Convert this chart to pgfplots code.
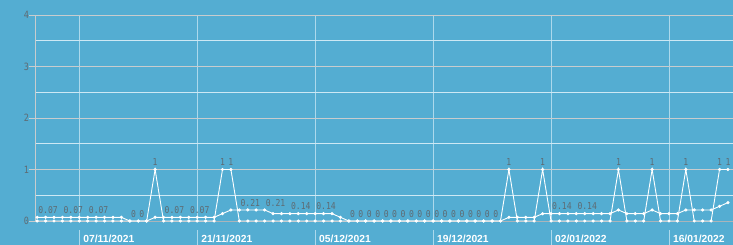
\documentclass[border=0pt]{standalone}
\usepackage{pgfplots}
\pgfplotsset{compat=1.18}
\usepackage{pgfplotstable}
\usepackage{fontspec}
\setmainfont{Liberation Sans}
\newfontfamily\lblfont[FakeStretch=0.85]{DejaVu Sans Mono}
\definecolor{bgc}{RGB}{84,173,210}
\definecolor{intgrid}{RGB}{200,204,206}
\definecolor{halfgrid}{RGB}{205,232,244}
\definecolor{vgrid}{RGB}{172,217,236}
\definecolor{lblc}{RGB}{94,107,115}
\definecolor{axc}{RGB}{170,180,186}
\newcommand\tk{\textcolor{vgrid}{\rule[-2.3bp]{0.9bp}{15bp}}\hspace{3.6bp}}

\pgfplotstableread{
day D R
0 0 0.0714
1 0 0.0714
2 0 0.0714
3 0 0.0714
4 0 0.0714
5 0 0.0714
6 0 0.0714
7 0 0.0714
8 0 0.0714
9 0 0.0714
10 0 0.0714
11 0 0
12 0 0
13 0 0
14 1 0.0714
15 0 0.0714
16 0 0.0714
17 0 0.0714
18 0 0.0714
19 0 0.0714
20 0 0.0714
21 0 0.0714
22 1 0.1429
23 1 0.2143
24 0 0.2143
25 0 0.2143
26 0 0.2143
27 0 0.2143
28 0 0.1429
29 0 0.1429
30 0 0.1429
31 0 0.1429
32 0 0.1429
33 0 0.1429
34 0 0.1429
35 0 0.1429
36 0 0.0714
37 0 0
38 0 0
39 0 0
40 0 0
41 0 0
42 0 0
43 0 0
44 0 0
45 0 0
46 0 0
47 0 0
48 0 0
49 0 0
50 0 0
51 0 0
52 0 0
53 0 0
54 0 0
55 0 0
56 1 0.0714
57 0 0.0714
58 0 0.0714
59 0 0.0714
60 1 0.1429
61 0 0.1429
62 0 0.1429
63 0 0.1429
64 0 0.1429
65 0 0.1429
66 0 0.1429
67 0 0.1429
68 0 0.1429
69 1 0.2143
70 0 0.1429
71 0 0.1429
72 0 0.1429
73 1 0.2143
74 0 0.1429
75 0 0.1429
76 0 0.1429
77 1 0.2143
78 0 0.2143
79 0 0.2143
80 0 0.2143
81 1 0.2857
82 1 0.3571
}\datatable

\begin{document}
\begin{tikzpicture}
\fill[bgc] (0,0) rectangle (733bp,245bp);
\begin{axis}[
  at={(35.9bp,24bp)}, anchor=south west, scale only axis,
  width=697.1bp, height=206bp,
  xmin=-0.15, xmax=82.6, ymin=0, ymax=4,
  axis x line*=bottom, axis y line*=left,
  x axis line style={draw=axc, line width=0.9bp, -},
  y axis line style={draw=intgrid, line width=0.9bp, -},
  ytick={0,1,2,3,4}, yticklabels={0,1,2,3,4},
  minor ytick={0.5,1.5,2.5,3.5},
  ymajorgrids, yminorgrids, xmajorgrids,
  major y grid style={draw=intgrid, line width=0.9bp},
  minor y grid style={draw=halfgrid, line width=0.9bp},
  major x grid style={draw=vgrid, line width=0.9bp},
  tick align=outside, major tick length=7bp, minor tick length=0pt,
  ytick style={draw=intgrid, line width=0.9bp},
  xtick style={draw=none},
  xtick={5,19,33,47,61,75},
  xticklabels={{\tk 07/11/2021},{\tk 21/11/2021},{\tk 05/12/2021},{\tk 19/12/2021},{\tk 02/01/2022},{\tk 16/01/2022}},
  xticklabel style={anchor=north west, inner sep=0pt, outer sep=0pt, yshift=-2bp, xshift=-0.45bp,
    font=\fontsize{10.3bp}{11bp}\selectfont\bfseries, text=white},
  yticklabel style={anchor=east, inner sep=0pt, outer sep=0pt,
    font=\lblfont\fontsize{10bp}{11bp}\selectfont, text=lblc},
  clip=false,
]
\addplot[white, line width=0.9bp, mark=*, mark size=1.1bp, mark options={fill=white, draw=white}]
  table[x=day, y=D] {\datatable};
\addplot[white, line width=0.9bp, mark=*, mark size=1.1bp, mark options={fill=white, draw=white}]
  table[x=day, y=R] {\datatable};
% rolling-average value labels
\addplot[draw=none, mark=none, nodes near coords, point meta=explicit symbolic,
  nodes near coords align={anchor=base west},
  every node near coord/.append style={inner sep=0pt, xshift=1bp, yshift=3.8bp,
    font=\lblfont\fontsize{9.5bp}{10bp}\selectfont, text=lblc}]
  coordinates {
  (0,0.0714)[0.07] (3,0.0714)[0.07] (6,0.0714)[0.07]
  (11,0)[0] (12,0)[0]
  (15,0.0714)[0.07] (18,0.0714)[0.07]
  (24,0.2143)[0.21] (27,0.2143)[0.21]
  (30,0.1429)[0.14] (33,0.1429)[0.14]
  (37,0)[0] (38,0)[0] (39,0)[0] (40,0)[0] (41,0)[0] (42,0)[0]
  (43,0)[0] (44,0)[0] (45,0)[0] (46,0)[0] (47,0)[0] (48,0)[0]
  (49,0)[0] (50,0)[0] (51,0)[0] (52,0)[0] (53,0)[0] (54,0)[0]
  (61,0.1429)[0.14] (64,0.1429)[0.14]
  };
% daily value labels
\addplot[draw=none, mark=none, nodes near coords, point meta=explicit symbolic,
  nodes near coords align={anchor=base},
  every node near coord/.append style={inner sep=0pt, yshift=3.8bp,
    font=\lblfont\fontsize{9.5bp}{10bp}\selectfont, text=lblc}]
  coordinates {
  (14,1)[1] (22,1)[1] (23,1)[1] (56,1)[1] (60,1)[1]
  (69,1)[1] (73,1)[1] (77,1)[1] (81,1)[1] (82,1)[1]
  };
\end{axis}
\pgfresetboundingbox
\useasboundingbox (0,0) rectangle (733bp,245bp);
\end{tikzpicture}
\end{document}
